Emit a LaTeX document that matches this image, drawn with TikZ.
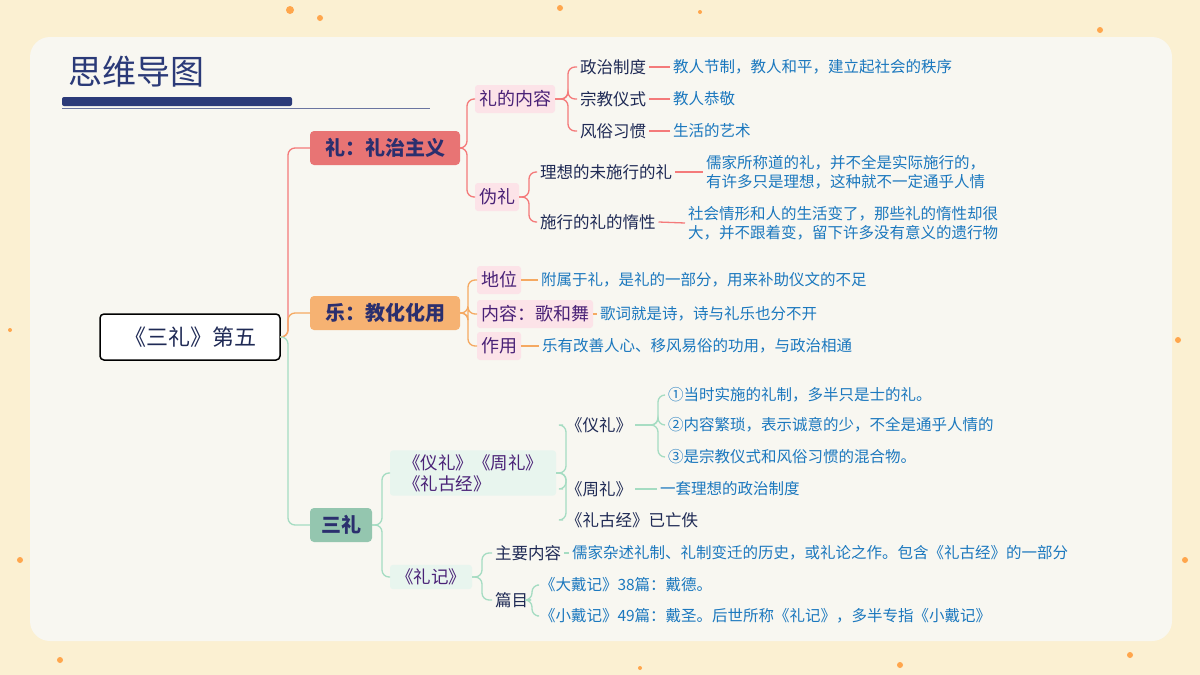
\documentclass[tikz,border=0pt]{standalone}
\usepackage{fontspec}
\setmainfont{Noto Sans CJK SC}
\begin{document}
\begin{tikzpicture}[x=1pt,y=-1pt,
  every node/.style={inner sep=0pt,outer sep=0pt},
  br/.style={rounded corners=4pt,minimum height=34pt,inner xsep=10pt,text=bnav,font=\fontsize{20}{22}\selectfont\bfseries},
  sub/.style={rounded corners=3pt,fill=pinkb,minimum height=28pt,inner xsep=4pt,text=purp,font=\fontsize{18}{20}\selectfont},
  gsub/.style={rounded corners=3pt,fill=greenb,inner xsep=6pt,inner ysep=4pt,text=purp,align=left,font=\fontsize{17.5}{21}\selectfont},
  lf/.style={anchor=west,text=navy,outer sep=3pt,font=\fontsize{16.5}{18}\selectfont},
  ds/.style={anchor=west,text=dblue,outer sep=3pt,align=left,font=\fontsize{15.5}{19.5}\selectfont},
  cr/.style={draw=lred,line width=1.3pt,rounded corners=7pt},
  co/.style={draw=lorange,line width=1.3pt,rounded corners=7pt},
  cg/.style={draw=lgreen,line width=1.3pt,rounded corners=7pt}]
\definecolor{bnav}{HTML}{2B2F6E}
\definecolor{navy}{HTML}{1F2A55}
\definecolor{purp}{HTML}{4A2277}
\definecolor{dblue}{HTML}{1B78BE}
\definecolor{pinkb}{HTML}{FCE3E8}
\definecolor{greenb}{HTML}{E8F5EE}
\definecolor{lred}{HTML}{F47A7A}
\definecolor{lorange}{HTML}{F5A962}
\definecolor{lgreen}{HTML}{A5DCC2}
\definecolor{bgy}{HTML}{FBF0D2}
\definecolor{card}{HTML}{F8F7F1}
\definecolor{titl}{HTML}{2B3A78}
\fill[bgy] (0,0) rectangle (1200,675);
\foreach \x/\y/\r in {290/10/4,320/18/3,560/8/3,700/12/2,1100/30/3,1178/340/3,1185/560/3,10/330/2,20/560/3,60/660/3,900/665/3,1130/655/3,640/668/2}
  \fill[orange!70] (\x,\y) circle (\r);
\fill[card,rounded corners=20pt] (30,37) rectangle (1172,641);
\node[anchor=west,text=titl,font=\fontsize{34}{36}\selectfont] (title) at (68,72) {思维导图};
\fill[titl,rounded corners=2pt] (62,97) rectangle (292,106);
\draw[titl!70,line width=1pt] (62,108.5) -- (430,108.5);

\node[draw=black,line width=1.5pt,fill=white,rounded corners=4pt,minimum width=180pt,minimum height=46pt,font=\fontsize{22}{24}\selectfont,text=navy] (root) at (190,337) {《三礼》第五};

\node[br,fill=lred!95!black,minimum width=150pt] (b1) at (385,148) {礼：礼治主义};
\node[br,fill=lorange!90,minimum width=150pt] (b2) at (385,313) {乐：教化化用};
\node[br,fill=lgreen!90!black,minimum width=62pt] (b3) at (341,525) {三礼};
\draw[cr] (root.east) -- (288,337) |- (b1.west);
\draw[co] (root.east) -- (288,337) |- (b2.west);
\draw[cg] (root.east) -- (288,337) |- (b3.west);

% branch 1
\node[sub,anchor=west] (s11) at (475,99) {礼的内容};
\node[sub,anchor=west] (s12) at (475,197) {伪礼};
\draw[cr] (b1.east) -- (467,148) |- (s11.west);
\draw[cr] (b1.east) -- (467,148) |- (s12.west);
\node[lf] (l1) at (577,67) {政治制度};
\node[lf] (l2) at (577,99) {宗教仪式};
\node[lf] (l3) at (577,131) {风俗习惯};
\foreach \n in {l1,l2,l3} \draw[cr] (s11.east) -- (568,99) |- (\n.west);
\node[ds] (d1) at (670,67) {教人节制，教人和平，建立起社会的秩序};
\node[ds] (d2) at (670,99) {教人恭敬};
\node[ds] (d3) at (670,131) {生活的艺术};
\draw[cr] (l1.east) -- (d1.west); \draw[cr] (l2.east) -- (d2.west); \draw[cr] (l3.east) -- (d3.west);
\node[lf] (l4) at (537,172) {理想的未施行的礼};
\node[lf] (l5) at (537,222) {施行的礼的惰性};
\foreach \n in {l4,l5} \draw[cr] (s12.east) -- (529,197) |- (\n.west);
\node[ds] (d4) at (703,172) {儒家所称道的礼，并不全是实际施行的，\\有许多只是理想，这种就不一定通乎人情};
\node[ds] (d5) at (685,223) {社会情形和人的生活变了，那些礼的惰性却很\\大，并不跟着变，留下许多没有意义的遗行物};
\draw[cr] (l4.east) -- (d4.west); \draw[cr] (l5.east) -- (d5.west);

% branch 2
\node[sub,anchor=west] (s21) at (477,280) {地位};
\node[sub,anchor=west] (s22) at (477,314) {内容：歌和舞};
\node[sub,anchor=west] (s23) at (477,346) {作用};
\foreach \n in {s21,s22,s23} \draw[co] (b2.east) -- (468,313) |- (\n.west);
\node[ds] (e1) at (538,280) {附属于礼，是礼的一部分，用来补助仪文的不足};
\node[ds] (e2) at (597,314) {歌词就是诗，诗与礼乐也分不开};
\node[ds] (e3) at (539,346) {乐有改善人心、移风易俗的功用，与政治相通};
\draw[co] (s21.east) -- (e1.west); \draw[co] (s22.east) -- (e2.west); \draw[co] (s23.east) -- (e3.west);

% branch 3
\node[gsub,anchor=west,minimum width=166pt] (s31) at (390,473) {《仪礼》《周礼》\\《礼古经》};
\node[gsub,anchor=west] (s32) at (390,577) {《礼记》};
\foreach \n in {s31,s32} \draw[cg] (b3.east) -- (382,525) |- (\n.west);
\node[lf] (m1) at (563,425) {《仪礼》};
\node[lf] (m2) at (563,489) {《周礼》};
\node[lf] (m3) at (563,520) {《礼古经》已亡佚};
\foreach \n in {m1,m2,m3} \draw[cg] (s31.east) -- (566,473) |- (\n.west) ;
\node[ds] (f1) at (665,395) {①当时实施的礼制，多半只是士的礼。};
\node[ds] (f2) at (665,425) {②内容繁琐，表示诚意的少，不全是通乎人情的};
\node[ds] (f3) at (665,457) {③是宗教仪式和风俗习惯的混合物。};
\foreach \n in {f1,f2,f3} \draw[cg] (m1.east) -- (658,425) |- (\n.west);
\node[ds] (f4) at (657,489) {一套理想的政治制度};
\draw[cg] (m2.east) -- (f4.west);
\node[lf] (n1) at (492,553) {主要内容};
\node[lf] (n2) at (492,600) {篇目};
\foreach \n in {n1,n2} \draw[cg] (s32.east) -- (482,577) |- (\n.west);
\node[ds] (g1) at (569,553) {儒家杂述礼制、礼制变迁的历史，或礼论之作。包含《礼古经》的一部分};
\draw[cg] (n1.east) -- (g1.west);
\node[ds] (g2) at (537,585) {《大戴记》38篇：戴德。};
\node[ds] (g3) at (537,616) {《小戴记》49篇：戴圣。后世所称《礼记》，多半专指《小戴记》};
\foreach \n in {g2,g3} \draw[cg] (n2.east) -- (532,600) |- (\n.west);
\end{tikzpicture}
\end{document}
